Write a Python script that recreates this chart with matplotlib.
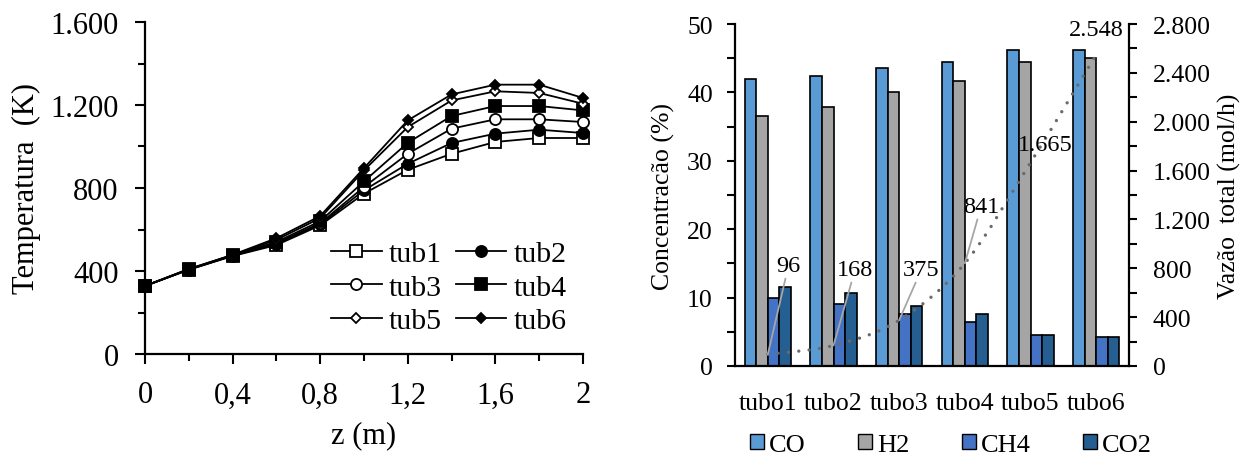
import numpy as np
import matplotlib
matplotlib.use('Agg')
import matplotlib.pyplot as plt
from matplotlib.ticker import FuncFormatter, MultipleLocator, FixedLocator
from matplotlib.path import Path
from matplotlib.patches import PathPatch, Patch

plt.rcParams['font.family'] = ['Liberation Serif', 'DejaVu Serif']

# ---------------- data ----------------
z = [0.0, 0.2, 0.4, 0.6, 0.8, 1.0, 1.2, 1.4, 1.6, 1.8, 2.0]
tub1 = [328, 406, 472, 525, 620, 773, 888, 965, 1022, 1041, 1041]
tub2 = [328, 407, 474, 530, 625, 789, 917, 1017, 1062, 1081, 1065]
tub3 = [328, 407, 475, 535, 630, 805, 965, 1086, 1131, 1131, 1118]
tub4 = [328, 408, 476, 540, 640, 832, 1018, 1147, 1195, 1195, 1174]
tub5 = [328, 409, 477, 550, 655, 885, 1094, 1222, 1266, 1258, 1206]
tub6 = [328, 410, 478, 558, 665, 896, 1126, 1251, 1298, 1298, 1234]
tub_names = ['tub1', 'tub2', 'tub3', 'tub4', 'tub5', 'tub6']

tubos = ['tubo1', 'tubo2', 'tubo3', 'tubo4', 'tubo5', 'tubo6']
co = [41.9, 42.4, 43.6, 44.5, 46.2, 46.2]
h2 = [36.6, 37.8, 40.1, 41.6, 44.5, 45.1]
ch4 = [9.9, 9.0, 7.6, 6.4, 4.6, 4.3]
co2 = [11.6, 10.7, 8.7, 7.6, 4.6, 4.3]
gas_names = ['CO', 'H2', 'CH4', 'CO2']
vazao = [96, 168, 375, 841, 1665, 2548]

# ---------------- helpers ----------------
def thousands(v, pos=None):
    return f"{int(round(v)):,}".replace(',', '.')

def decimal_comma(v, pos=None):
    if abs(v - round(v)) < 1e-9:
        return str(int(round(v)))
    return f"{v:.1f}".replace('.', ',')

FSL = 22     # left chart
FSR = 18.5   # right chart

fig = plt.figure(figsize=(12.5, 4.56), dpi=100)

# ---------------- left chart ----------------
ax1 = fig.add_axes([145/1250, 1-355/456, (583-145)/1250, (355-23)/456])
series = [tub1, tub2, tub3, tub4, tub5, tub6]
styles = [('s', 'white', 8), ('o', 'black', 8), ('o', 'white', 8),
          ('s', 'black', 8), ('D', 'white', 5.5), ('D', 'black', 5.5)]
handles = []
for vals, name, (m, fc, ms) in zip(series, tub_names, styles):
    ln, = ax1.plot(z, vals, color='black', lw=1.3, marker=m, markersize=ms,
                   markerfacecolor=fc, markeredgecolor='black', markeredgewidth=1.3,
                   clip_on=False, label=name, zorder=3)
    handles.append(ln)

ax1.set_xlim(0, 2)
ax1.set_ylim(0, 1600)
ax1.xaxis.set_major_locator(FixedLocator([0, 0.4, 0.8, 1.2, 1.6, 2.0]))
ax1.xaxis.set_minor_locator(FixedLocator([0.2, 0.6, 1.0, 1.4, 1.8]))
ax1.yaxis.set_major_locator(MultipleLocator(400))
ax1.yaxis.set_minor_locator(MultipleLocator(200))
ax1.xaxis.set_major_formatter(FuncFormatter(decimal_comma))
ax1.yaxis.set_major_formatter(FuncFormatter(thousands))
for s in ['top', 'right']:
    ax1.spines[s].set_visible(False)
for s in ['left', 'bottom']:
    ax1.spines[s].set_linewidth(1.6)
ax1.tick_params(axis='both', which='major', direction='out', length=7, width=1.5,
                labelsize=FSL)
ax1.tick_params(axis='both', which='minor', direction='out', length=5, width=1.5)
ax1.tick_params(axis='x', which='major', pad=12)
ax1.tick_params(axis='y', which='major', pad=12)
ax1.set_ylabel('Temperatura  (K)', fontsize=FSL)
ax1.set_xlabel('z (m)', fontsize=FSL)
ax1.yaxis.set_label_coords(-0.237, 0.5)
ax1.xaxis.set_label_coords(0.5, -0.2)
# row-major order like the reference legend
order = [0, 2, 4, 1, 3, 5]
ax1.legend(handles=[handles[i] for i in order], ncol=2, frameon=False,
           fontsize=21.5, loc='lower right', bbox_to_anchor=(0.962, 0.06),
           handlelength=1.7, handletextpad=0.23, columnspacing=0.47,
           labelspacing=0.22, borderaxespad=0.0, borderpad=0.0)

# ---------------- right chart ----------------
ax2 = fig.add_axes([735/1250, 1-367/456, (1129-735)/1250, (367-25)/456])
x = np.arange(len(tubos))
colors = ['#5B9BD5', '#A5A5A5', '#4472C4', '#255E91']
bw = 0.177
for i, (vals, c, name) in enumerate(zip([co, h2, ch4, co2], colors, gas_names)):
    ax2.bar(x + (i - 1.5) * bw, vals, width=bw, color=c, edgecolor='black',
            linewidth=1.2, label=name, zorder=2)
ax2.set_xlim(-0.5, 5.5)
ax2.set_ylim(0, 50)
ax2.set_xticks(x)
ax2.set_xticklabels(tubos)
ax2.yaxis.set_major_locator(MultipleLocator(10))
ax2.yaxis.set_minor_locator(MultipleLocator(5))
for s in ['top', 'right']:
    ax2.spines[s].set_visible(False)
for s in ['left', 'bottom']:
    ax2.spines[s].set_linewidth(1.6)
ax2.tick_params(axis='x', which='both', length=0, labelsize=FSR, pad=19)
ax2.tick_params(axis='y', which='major', direction='out', length=6, width=1.5,
                labelsize=FSR, pad=10)
ax2.tick_params(axis='y', which='minor', direction='out', length=6, width=1.5)
ax2.set_ylabel('Concentracão (%)', fontsize=FSR)
ax2.yaxis.set_label_coords(-0.152, 0.5)

ax3 = ax2.twinx()
ax3.set_ylim(0, 2800)
ax3.yaxis.set_major_locator(MultipleLocator(400))
ax3.yaxis.set_minor_locator(MultipleLocator(200))
ax3.yaxis.set_major_formatter(FuncFormatter(thousands))
for s in ['top', 'left', 'bottom']:
    ax3.spines[s].set_visible(False)
ax3.spines['right'].set_linewidth(1.6)
ax3.tick_params(axis='y', which='major', direction='out', length=6, width=1.5,
                labelsize=FSR, pad=11)
ax3.tick_params(axis='y', which='minor', direction='out', length=6, width=1.5)
ax3.set_ylabel('Vazão  total (mol/h)', fontsize=FSR)
ax3.yaxis.set_label_coords(1.225, 0.5)

# smooth (Excel-like) curve through the flow values
pts = np.column_stack([x, vazao]).astype(float)
verts = [tuple(pts[0])]
codes = [Path.MOVETO]
n = len(pts)
for i in range(n - 1):
    p0 = pts[i - 1] if i > 0 else pts[i]
    p1 = pts[i]
    p2 = pts[i + 1]
    p3 = pts[i + 2] if i + 2 < n else pts[i + 1]
    c1 = p1 + (p2 - p0) / 6.0
    c2 = p2 - (p3 - p1) / 6.0
    verts += [tuple(c1), tuple(c2), tuple(p2)]
    codes += [Path.CURVE4] * 3
curve = PathPatch(Path(verts, codes), fill=False, edgecolor='#6A6A6A', lw=2.4,
                  linestyle=(0, (0.01, 3.1)), capstyle='round', zorder=4)
ax3.add_patch(curve)

label_pos = [(0.316, 825), (1.33, 792), (2.34, 792), (3.25, 1309),
             (4.22, 1817), (5.0, 2759)]
for i, (v, (tx, ty)) in enumerate(zip(vazao, label_pos)):
    ap = None
    if i < 4:
        ap = dict(arrowstyle='-', color='#A6A6A6', lw=1.3, shrinkA=0, shrinkB=0)
    ax3.annotate(thousands(v), xy=(x[i], v), xytext=(tx, ty),
                 textcoords='data', ha='center', va='center', fontsize=17.5,
                 arrowprops=ap, annotation_clip=False, zorder=5)

leg_handles = [Patch(facecolor=c, edgecolor='black', linewidth=1.0) for c in colors]
fig.legend(leg_handles, gas_names, loc='center', ncol=4, frameon=False,
           fontsize=19, bbox_to_anchor=(951/1250, 1 - 446/456),
           handlelength=0.52, handleheight=0.52, handletextpad=0.18,
           columnspacing=2.0, borderpad=0.0)

fig.savefig('out.png', dpi=100)
